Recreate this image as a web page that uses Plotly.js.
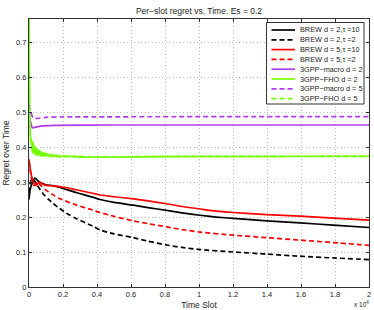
<!DOCTYPE html>
<html>
<head>
<meta charset="utf-8">
<script src="https://cdn.plot.ly/plotly-3.0.1.min.js"></script>
<style>html,body{margin:0;padding:0;background:#fff;}#chart{width:374px;height:310px;}</style>
</head>
<body>
<div id="chart"></div>
<script>
// ---- data ----
const seriesNames = ["BREW d = 2,\u03c4 =10", "BREW d = 2,\u03c4 =2", "BREW d = 5,\u03c4 =10", "BREW d = 5,\u03c4 =2",
                     "3GPP\u2212macro d = 2", "3GPP\u2212FHO d = 2", "3GPP\u2212macro d = 5", "3GPP\u2212FHO d = 5"];
const seriesColors = ["#000000", "#000000", "#ff0000", "#ff0000", "#b23aee", "#76ff03", "#b23aee", "#76ff03"];
const seriesDash = ["solid", "5px,3px", "solid", "5px,3px", "solid", "solid", "5px,3px", "5px,3px"];

const tBrew2_10 = [0, 100, 350, 600, 1000, 1400, 1784, 2300, 2765, 3745, 4176, 5000, 6137, 7000, 8098, 9000, 10059, 11000, 12020, 13980, 15941, 17902, 20000];
const vBrew2_10 = [0.25, 0.285, 0.311, 0.300, 0.292, 0.290, 0.285, 0.277, 0.270, 0.257, 0.250, 0.242, 0.234, 0.227, 0.219, 0.212, 0.205, 0.200, 0.196, 0.189, 0.183, 0.177, 0.170];

const tBrew2_2 = [0, 150, 300, 500, 804, 1200, 1784, 2300, 2765, 3745, 4176, 5000, 6137, 7000, 8098, 9000, 10059, 12020, 13980, 15941, 17902, 20000];
const vBrew2_2 = [0.27, 0.31, 0.305, 0.290, 0.268, 0.248, 0.225, 0.208, 0.196, 0.174, 0.163, 0.152, 0.141, 0.131, 0.120, 0.113, 0.107, 0.100, 0.094, 0.088, 0.083, 0.0785];

const tBrew5_10 = [0, 100, 220, 400, 600, 900, 1400, 1784, 2300, 2765, 3745, 4176, 5000, 6137, 7000, 8098, 9000, 10059, 11000, 12020, 13980, 15941, 17902, 20000];
const vBrew5_10 = [0.365, 0.33, 0.305, 0.29, 0.30, 0.292, 0.289, 0.287, 0.283, 0.278, 0.268, 0.263, 0.258, 0.252, 0.246, 0.238, 0.230, 0.223, 0.217, 0.213, 0.207, 0.2025, 0.197, 0.191];

const tBrew5_2 = [0, 150, 300, 500, 700, 1000, 1400, 1784, 2300, 2800, 3745, 4176, 5000, 6137, 7000, 8098, 9000, 10059, 12020, 13980, 15941, 17902, 20000];
const vBrew5_2 = [0.36, 0.31, 0.29, 0.30, 0.29, 0.277, 0.264, 0.253, 0.243, 0.234, 0.220, 0.213, 0.202, 0.189, 0.181, 0.172, 0.164, 0.157, 0.148, 0.141, 0.134, 0.127, 0.119];

const tMacro2 = [0, 100, 200, 400, 700, 1500, 5000, 20000];
const vMacro2 = [0.49, 0.47, 0.455, 0.457, 0.460, 0.462, 0.463, 0.463];

const tMacro5 = [0, 100, 250, 500, 1000, 2000, 20000];
const vMacro5 = [0.52, 0.50, 0.483, 0.482, 0.485, 0.486, 0.487];

const tFho2 = [0, 60, 120, 150, 200, 250, 300, 350, 400, 450, 500, 550, 600, 650, 700, 750, 800, 850, 900, 950, 1000, 1100, 1200, 1300, 1400, 1500, 1600, 1700, 1800, 2000, 2500, 3000, 6000, 10000, 20000];
const vFho2 = [0.90, 0.45, 0.41, 0.42, 0.385, 0.41, 0.38, 0.40, 0.378, 0.395, 0.376, 0.392, 0.377, 0.388, 0.375, 0.386, 0.376, 0.384, 0.374, 0.383, 0.375, 0.381, 0.373, 0.379, 0.373, 0.378, 0.372, 0.377, 0.372, 0.375, 0.373, 0.371, 0.372, 0.373, 0.373];

const tFho5 = [0, 50, 100, 175, 225, 275, 325, 375, 425, 475, 525, 575, 625, 675, 725, 775, 825, 875, 925, 975, 1050, 1150, 1250, 1350, 1450, 1550, 1650, 1750, 1900, 2200, 2700, 3500, 8000, 20000];
const vFho5 = [0.70, 0.46, 0.42, 0.395, 0.415, 0.383, 0.405, 0.379, 0.398, 0.377, 0.393, 0.376, 0.389, 0.375, 0.387, 0.374, 0.384, 0.374, 0.382, 0.374, 0.380, 0.373, 0.378, 0.372, 0.377, 0.372, 0.376, 0.372, 0.375, 0.372, 0.374, 0.372, 0.373, 0.374];

const xTickVals = [0, 2000, 4000, 6000, 8000, 10000, 12000, 14000, 16000, 18000, 20000];
const xTickText = ["0", "0.2", "0.4", "0.6", "0.8", "1", "1.2", "1.4", "1.6", "1.8", "2"];

// ---- build traces ----
const xs = [tBrew2_10, tBrew2_2, tBrew5_10, tBrew5_2, tMacro2, tFho2, tMacro5, tFho5];
const ys = [vBrew2_10, vBrew2_2, vBrew5_10, vBrew5_2, vMacro2, vFho2, vMacro5, vFho5];
const traces = xs.map((x, i) => ({
  x: x, y: ys[i], type: "scatter", mode: "lines", name: seriesNames[i],
  line: {color: seriesColors[i], width: 1.7, dash: seriesDash[i], shape: "spline", smoothing: 0.6},
  hoverinfo: "skip", showlegend: false
}));

const FONT = "Liberation Sans, Arial, Helvetica, sans-serif";
const W = 374, H = 310, ML = 29, MR = 5, MT = 19, MB = 23;
const PW = W - ML - MR, PH = H - MT - MB;
const px = v => (v - ML) / PW;
const py = v => (H - MB - v) / PH;

// custom legend (MATLAB-style compact box)
const shapes = [{
  type: "rect", xref: "paper", yref: "paper",
  x0: px(266.5), x1: px(364), y0: py(104), y1: py(22.5),
  line: {color: "#333", width: 1}, fillcolor: "#ffffff", layer: "above"
}];
const annotations = [];
seriesNames.forEach((nm, i) => {
  const rowY = 30 + 9.8 * i;
  shapes.push({
    type: "line", xref: "paper", yref: "paper",
    x0: px(271.5), x1: px(295), y0: py(rowY), y1: py(rowY),
    line: {color: seriesColors[i], width: 1.7, dash: seriesDash[i]}, layer: "above"
  });
  annotations.push({
    xref: "paper", yref: "paper", x: px(297.5), y: py(rowY),
    xanchor: "left", yanchor: "middle", showarrow: false,
    text: nm, font: {family: FONT, size: 7.3, color: "#222"}
  });
});
annotations.push({
  xref: "paper", yref: "paper", x: px(371), y: py(303.5),
  xanchor: "right", yanchor: "middle", showarrow: false,
  text: "x 10<sup>4</sup>", font: {family: FONT, size: 6.5, color: "#222"}
});

const axisCommon = {
  showline: true, linecolor: "#333", linewidth: 1, mirror: "ticks",
  ticks: "inside", ticklen: 3, tickcolor: "#333", tickwidth: 1,
  showgrid: true, gridcolor: "#bdbdbd", griddash: "1px,2.5px", gridwidth: 1,
  zeroline: false, tickfont: {family: FONT, size: 7.5, color: "#222"}
};

const layout = {
  width: W, height: H,
  margin: {l: ML, r: MR, t: MT, b: MB, pad: 0},
  paper_bgcolor: "#ffffff", plot_bgcolor: "#ffffff",
  font: {family: FONT, color: "#222"},
  title: {text: "Per\u2212slot regret vs. Time. Es = 0.2", font: {family: FONT, size: 8.5, color: "#222"},
          x: 0.5, xref: "paper", y: 1 - 11 / H, yref: "container", yanchor: "middle"},
  xaxis: Object.assign({}, axisCommon, {
    range: [0, 20000], tickvals: xTickVals, ticktext: xTickText,
    title: {text: "Time Slot", font: {family: FONT, size: 8.5, color: "#222"}, standoff: 11}
  }),
  yaxis: Object.assign({}, axisCommon, {
    range: [0, 0.766], dtick: 0.1, tick0: 0,
    title: {text: "Regret over Time", font: {family: FONT, size: 8.5, color: "#222"}, standoff: 5}
  }),
  shapes: shapes, annotations: annotations, showlegend: false
};

Plotly.newPlot("chart", traces, layout, {staticPlot: true, displayModeBar: false});
</script>
</body>
</html>
